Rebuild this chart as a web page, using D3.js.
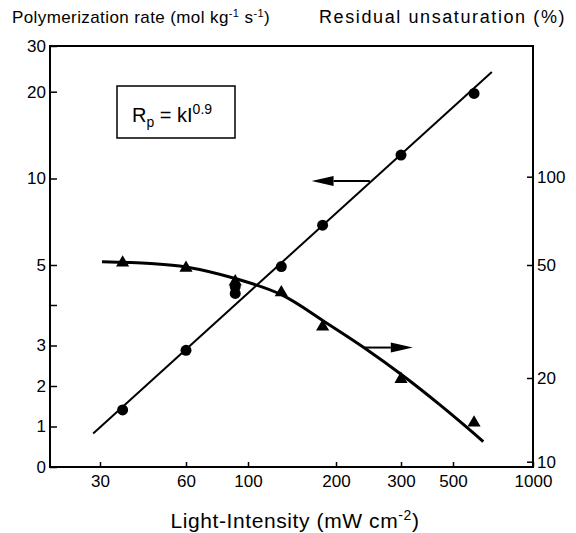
<!DOCTYPE html>
<html>
<head>
<meta charset="utf-8">
<script src="https://cdn.jsdelivr.net/npm/d3@7"></script>
<style>
  body { margin: 0; background: #fff; }
  text { font-family: "Liberation Sans", Arial, sans-serif; fill: #000; }
</style>
</head>
<body>
<div id="chart"></div>
<script>
// data
let xTicks = [30, 60, 100, 200, 300, 500, 1000];
let leftTicks = [0, 1, 2, 3, 4, 5, 10, 20, 30];
let rightTicks = [10, 20, 50, 100];

// circles: polymerization rate (left axis)
let rateLight = [36, 60, 90, 90, 130, 180, 300, 600];
let rateVals = [1.41, 2.88, 4.46, 4.29, 4.96, 7.3, 12.7, 19.8];

// triangles: residual unsaturation (right axis)
let unsatLight = [36, 60, 90, 130, 180, 300, 600];
let unsatVals = [50.9, 48.8, 43.7, 40.0, 30.3, 19.8, 13.8];

// fitted lines
let fitRateLight = [28.4, 700];
let fitRateVals = [0.83, 24.3];
let fitUnsatLight = [30.5, 45, 60, 90, 130, 185, 240, 310, 440, 650];
let fitUnsatVals = [51.3, 50.6, 49.2, 44.8, 39.3, 31.3, 25.4, 20.2, 16.0, 11.8];

// arrows [light, value] start -> end
let arrowLeft = [[247, 9.85], [165, 9.85]];
let arrowRight = [[239, 25.6], [337, 25.6]];

let W = 576, H = 533;
let svg = d3.select("#chart").append("svg")
  .attr("width", W)
  .attr("height", H);

// axes are hand drawn in the original, so polylinear scales follow the tick marks
let x = d3.scaleLog()
  .domain(xTicks)
  .range([100, 186, 248, 336, 401, 453, 533]);
let yL = d3.scaleLinear()
  .domain(leftTicks)
  .range([467, 426.5, 386, 345.5, 305, 265, 178.5, 91.7, 46]);
let yR = d3.scaleLog()
  .domain(rightTicks)
  .range([461.7, 378, 265, 176.7]);

// frame
svg.append("rect")
  .attr("x", 50)
  .attr("y", 46)
  .attr("width", 483)
  .attr("height", 421)
  .attr("fill", "none")
  .attr("stroke", "#000")
  .attr("stroke-width", 2);

// axes
let gx = svg.append("g")
  .attr("transform", "translate(0,467)")
  .call(d3.axisBottom(x).tickValues(xTicks).tickSize(-5).tickPadding(8).tickFormat(d3.format("d")));
let gl = svg.append("g")
  .attr("transform", "translate(50,0)")
  .call(d3.axisLeft(yL).tickValues(leftTicks).tickSize(-7).tickPadding(4)
    .tickFormat(d => d === 4 ? "" : d));
let gr = svg.append("g")
  .attr("transform", "translate(533,0)")
  .call(d3.axisRight(yR).tickValues(rightTicks).tickSize(-6).tickPadding(4).tickFormat(d3.format("d")));

[gx, gl, gr].forEach(g => {
  g.select(".domain").remove();
  g.selectAll("line").attr("stroke", "#000").attr("stroke-width", 1.5);
  g.selectAll("text")
    .style("font-family", "'Liberation Sans', Arial, sans-serif")
    .style("font-size", "17px")
    .attr("fill", "#000");
});

// rate fit line
let line = d3.line()
  .x(d => x(d[0]))
  .y(d => yL(d[1]));
svg.append("path")
  .datum(d3.zip(fitRateLight, fitRateVals))
  .attr("d", line)
  .attr("fill", "none")
  .attr("stroke", "#000")
  .attr("stroke-width", 2);

// unsaturation fit curve
let curve = d3.line()
  .x(d => x(d[0]))
  .y(d => yR(d[1]))
  .curve(d3.curveCatmullRom.alpha(0.5));
svg.append("path")
  .datum(d3.zip(fitUnsatLight, fitUnsatVals))
  .attr("d", curve)
  .attr("fill", "none")
  .attr("stroke", "#000")
  .attr("stroke-width", 3);

// circles
svg.append("g").selectAll("circle")
  .data(d3.zip(rateLight, rateVals))
  .join("circle")
  .attr("cx", d => x(d[0]))
  .attr("cy", d => yL(d[1]))
  .attr("r", 5.5)
  .attr("fill", "#000");

// triangles
svg.append("g").selectAll("path")
  .data(d3.zip(unsatLight, unsatVals))
  .join("path")
  .attr("d", d3.symbol(d3.symbolTriangle, 75))
  .attr("transform", d => "translate(" + x(d[0]) + "," + yR(d[1]) + ")")
  .attr("fill", "#000");

// arrows
function drawArrow(pts, yScale) {
  let x1 = x(pts[0][0]), y1 = yScale(pts[0][1]);
  let x2 = x(pts[1][0]), y2 = yScale(pts[1][1]);
  let dir = x2 > x1 ? 1 : -1;
  let headLen = 22, headHalf = 5;
  svg.append("line")
    .attr("x1", x1).attr("y1", y1)
    .attr("x2", x2 - dir * headLen).attr("y2", y2)
    .attr("stroke", "#000")
    .attr("stroke-width", 2);
  svg.append("path")
    .attr("d", "M" + x2 + "," + y2 +
      "L" + (x2 - dir * headLen) + "," + (y2 - headHalf) +
      "L" + (x2 - dir * headLen) + "," + (y2 + headHalf) + "Z")
    .attr("fill", "#000");
}
drawArrow(arrowLeft, yL);
drawArrow(arrowRight, yR);

// equation box
svg.append("rect")
  .attr("x", 117)
  .attr("y", 86)
  .attr("width", 118)
  .attr("height", 52)
  .attr("fill", "none")
  .attr("stroke", "#000")
  .attr("stroke-width", 1.5);
let eq = svg.append("text")
  .attr("x", 132)
  .attr("y", 122)
  .style("font-size", "20px");
eq.append("tspan").text("R");
eq.append("tspan").attr("dy", 5).style("font-size", "14px").text("p");
eq.append("tspan").attr("dy", -5).text(" = kI");
eq.append("tspan").attr("dy", -8).style("font-size", "14px").text("0.9");

// axis titles
let tl = svg.append("text")
  .attr("x", 12)
  .attr("y", 23)
  .style("font-size", "17px")
  .style("letter-spacing", "0.4px");
tl.append("tspan").text("Polymerization rate (mol kg");
tl.append("tspan").attr("dy", -6).style("font-size", "11px").text("-1");
tl.append("tspan").attr("dy", 6).text(" s");
tl.append("tspan").attr("dy", -6).style("font-size", "11px").text("-1");
tl.append("tspan").attr("dy", 6).text(")");

svg.append("text")
  .attr("x", 319)
  .attr("y", 23)
  .style("font-size", "18px")
  .style("letter-spacing", "1.6px")
  .text("Residual unsaturation (%)");

let xl = svg.append("text")
  .attr("x", 295)
  .attr("y", 528)
  .attr("text-anchor", "middle")
  .style("font-size", "21px")
  .style("letter-spacing", "0.6px");
xl.append("tspan").text("Light-Intensity (mW cm");
xl.append("tspan").attr("dy", -8).style("font-size", "14px").text("-2");
xl.append("tspan").attr("dy", 8).text(")");
</script>
</body>
</html>
